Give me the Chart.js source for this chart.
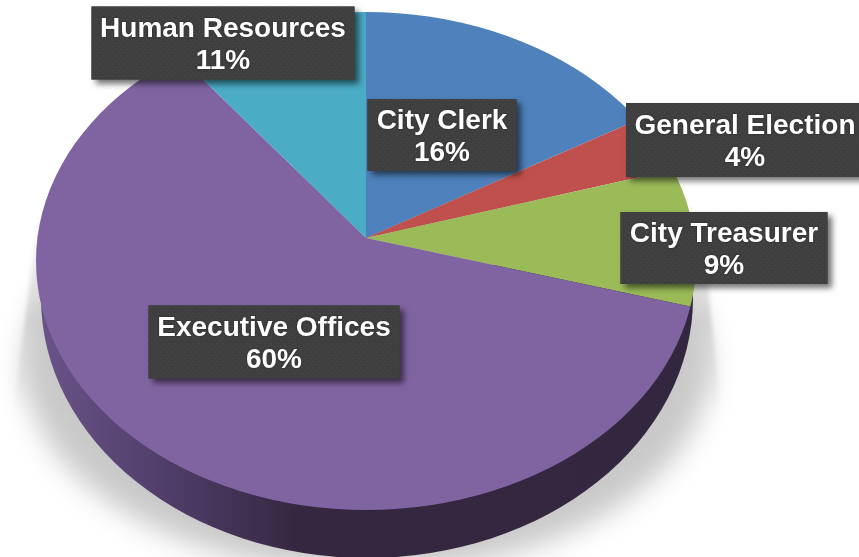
<!DOCTYPE html>
<html>
<head>
<meta charset="utf-8">
<style>
  body { margin: 0; background: #fff; }
  canvas { display: block; }
</style>
<script src="https://cdn.jsdelivr.net/npm/chart.js@4"></script>
</head>
<body>
<canvas id="pie" width="859" height="557"></canvas>
<script>
const categories = ['City Clerk', 'General Election', 'City Treasurer', 'Executive Offices', 'Human Resources'];
const shares = [16, 4, 9, 60, 11];
const sliceColors = ['#4f81bd', '#c0504d', '#9bbb59', '#8064a2', '#4bacc6'];

// middle of each label box, same order as categories
const labelCenters = [[442, 135], [745, 140], [724, 248], [274, 342], [223, 43]];
const labelHeights = [72, 74, 72, 73, 73];
const labelWidths = [149, 238, 207, 251, 263];

// pie geometry on the page (apex is above the middle of the tilted disc)
const apex = { x: 366, y: 238 };
const face = { x: 366, y: 261, rx: 330, ry: 249 };
const under = { x: 367, y: 298, rx: 326, ry: 260 };
const oversize = 1.25;
// the far left quadrant is squeezed by the perspective of the original
const leftSqueeze = 281 / 330;

function dotPattern(ctx) {
  const c = document.createElement('canvas');
  c.width = 6;
  c.height = 6;
  const p = c.getContext('2d');
  p.fillStyle = '#3f3f3f';
  p.fillRect(0, 0, 6, 6);
  p.fillStyle = '#4b4b4b';
  p.fillRect(1, 1, 1, 1);
  p.fillRect(4, 4, 1, 1);
  return ctx.createPattern(c, 'repeat');
}

function drawShadow(ctx) {
  const gray = '#c9c9c9';
  // soft pool below the disc
  ctx.save();
  ctx.filter = 'blur(14px)';
  ctx.fillStyle = gray;
  ctx.beginPath();
  ctx.ellipse(367, 367, 342, 205, 0, 0, Math.PI * 2);
  ctx.fill();
  ctx.restore();
  // straight sides going up behind the disc, fading into the pool
  const g = ctx.createLinearGradient(0, 215, 0, 410);
  g.addColorStop(0, 'rgba(201,201,201,0)');
  g.addColorStop(0.55, 'rgba(201,201,201,0.75)');
  g.addColorStop(1, 'rgba(201,201,201,0)');
  ctx.save();
  ctx.filter = 'blur(2px)';
  ctx.fillStyle = g;
  ctx.beginPath();
  ctx.moveTo(40, 200);
  ctx.lineTo(14, 410);
  ctx.lineTo(720, 410);
  ctx.lineTo(700, 200);
  ctx.closePath();
  ctx.fill();
  ctx.restore();
}

function drawWall(ctx) {
  const g = ctx.createLinearGradient(36, 0, 696, 0);
  g.addColorStop(0, '#6b5489');
  g.addColorStop(0.2, '#4f3d69');
  g.addColorStop(0.4, '#352740');
  g.addColorStop(1, '#33263f');
  ctx.save();
  ctx.fillStyle = g;
  ctx.beginPath();
  ctx.rect(0, 265, 859, 292);
  ctx.clip();
  ctx.beginPath();
  ctx.ellipse(under.x, under.y, under.rx, under.ry, 0, 0, Math.PI * 2);
  ctx.fill();
  ctx.restore();
}

function drawFace(chart) {
  const ctx = chart.ctx;
  const meta = chart.getDatasetMeta(0);
  const arc = meta.data[0];
  const R = arc.outerRadius;
  const sx = face.rx * oversize / R;
  const rows = [
    { y: 0, h: apex.y, sy: (apex.y - (face.y - face.ry)) * oversize / R },
    { y: apex.y, h: 557 - apex.y, sy: (face.y + face.ry - apex.y) * oversize / R }
  ];
  const cols = [
    { x: 0, w: apex.x, sx: sx * leftSqueeze },
    { x: apex.x, w: 859 - apex.x, sx: sx }
  ];
  ctx.save();
  ctx.beginPath();
  ctx.ellipse(face.x, face.y, face.rx, face.ry, 0, 0, Math.PI * 2);
  ctx.clip();
  rows.forEach(r => cols.forEach(c => {
    ctx.save();
    ctx.beginPath();
    ctx.rect(c.x - 0.5, r.y - 0.5, c.w + 1, r.h + 1);
    ctx.clip();
    ctx.translate(apex.x, apex.y);
    ctx.scale(c.sx, r.sy);
    ctx.translate(-arc.x, -arc.y);
    meta.controller.draw();
    ctx.restore();
  }));
  ctx.restore();
}

function drawLabels(chart) {
  const ctx = chart.ctx;
  const pattern = dotPattern(ctx);
  categories.forEach((name, i) => {
    const [cx, cy] = labelCenters[i];
    const w = labelWidths[i], h = labelHeights[i];
    ctx.save();
    ctx.shadowColor = 'rgba(0,0,0,0.55)';
    ctx.shadowBlur = 6;
    ctx.shadowOffsetX = 4;
    ctx.shadowOffsetY = 4;
    ctx.fillStyle = '#3f3f3f';
    ctx.fillRect(cx - w / 2, cy - h / 2, w, h);
    ctx.restore();
    ctx.fillStyle = pattern;
    ctx.fillRect(cx - w / 2, cy - h / 2, w, h);

    ctx.save();
    ctx.fillStyle = '#fff';
    ctx.font = 'bold 28px "Liberation Sans", Arial, sans-serif';
    ctx.textAlign = 'center';
    ctx.textBaseline = 'alphabetic';
    ctx.shadowColor = 'rgba(0,0,0,0.5)';
    ctx.shadowBlur = 2;
    ctx.fillText(name, cx, cy - 6);
    ctx.fillText(shares[i] + '%', cx, cy + 26);
    ctx.restore();
  });
}

const fakePie = {
  id: 'fakePie',
  beforeDatasetsDraw(chart) {
    drawShadow(chart.ctx);
    drawWall(chart.ctx);
    drawFace(chart);
    return false;
  },
  afterDraw(chart) {
    drawLabels(chart);
  }
};

new Chart(document.getElementById('pie'), {
  type: 'pie',
  data: {
    labels: categories,
    datasets: [{
      data: shares,
      backgroundColor: sliceColors,
      borderWidth: 0
    }]
  },
  options: {
    responsive: false,
    animation: false,
    plugins: {
      legend: { display: false },
      tooltip: { enabled: false }
    }
  },
  plugins: [fakePie]
});
</script>
</body>
</html>
